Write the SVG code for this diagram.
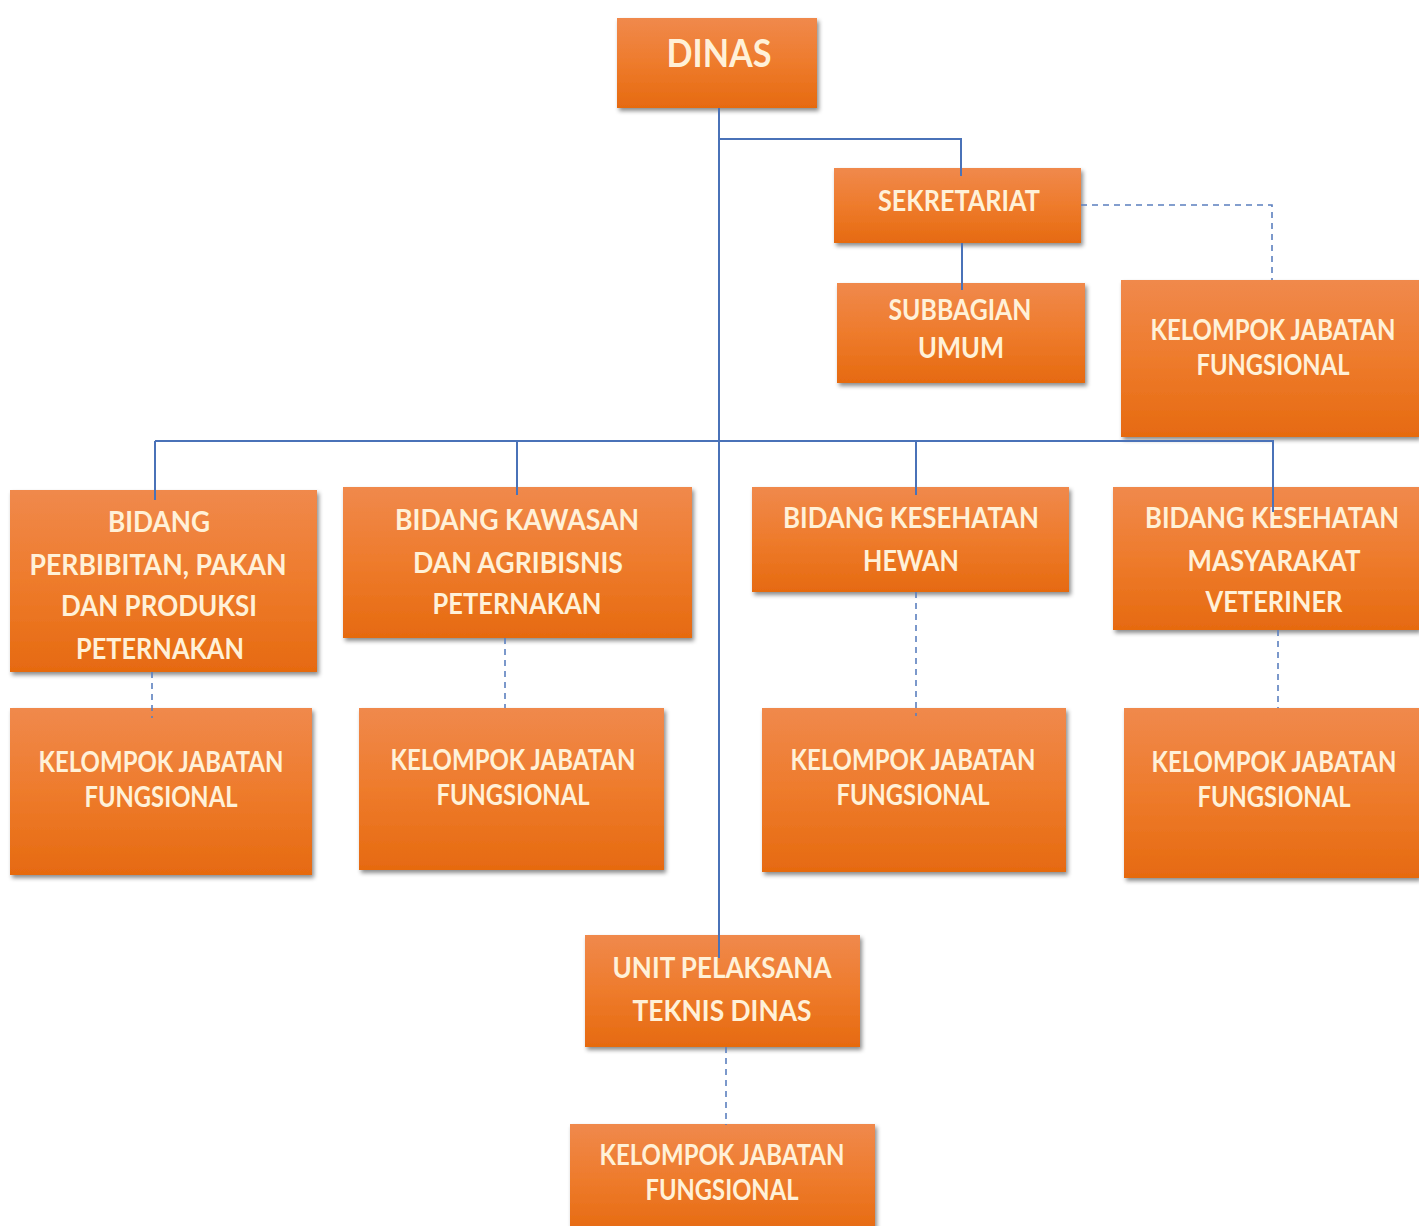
<svg xmlns="http://www.w3.org/2000/svg" width="1419" height="1226" viewBox="0 0 1419 1226">
<defs>
<linearGradient id="og" x1="0" y1="0" x2="0" y2="1">
<stop offset="0" stop-color="#F0894C"/>
<stop offset="0.5" stop-color="#EE7B2C"/>
<stop offset="1" stop-color="#E66A10"/>
</linearGradient>
<filter id="sh" x="-10%" y="-10%" width="120%" height="130%">
<feDropShadow dx="2" dy="3" stdDeviation="2" flood-color="#000" flood-opacity="0.45"/>
</filter>
<style>
.box{fill:url(#og);filter:url(#sh)}
.t{font-family:Lato,"Open Sans","Liberation Sans",sans-serif;font-weight:bold;font-size:28px;fill:#FFF1D8;text-anchor:middle}
.s{fill:none;stroke:#4A72B8;stroke-width:2}
.d{fill:none;stroke:#5B7FBF;stroke-width:1.6;stroke-dasharray:6 5}
</style>
</defs>
<rect width="1419" height="1226" fill="#FFFFFF"/>

<g id="dinas"><rect class="box" x="617" y="18" width="200" height="90"/>
<text class="t" x="719" y="67" style="font-size:38px" textLength="105" lengthAdjust="spacingAndGlyphs">DINAS</text></g>

<g id="sekretariat"><rect class="box" x="834" y="168" width="247" height="75"/>
<text class="t" x="959" y="211" textLength="162" lengthAdjust="spacingAndGlyphs">SEKRETARIAT</text></g>

<g id="subbagian-umum"><rect class="box" x="837" y="283" width="248" height="100"/>
<text class="t" x="960" y="320" textLength="143" lengthAdjust="spacingAndGlyphs">SUBBAGIAN</text>
<text class="t" x="961" y="358" textLength="86" lengthAdjust="spacingAndGlyphs">UMUM</text></g>

<g id="kjf-sekretariat"><rect class="box" x="1121" y="280" width="298" height="157"/>
<text class="t" x="1273" y="340" textLength="245" lengthAdjust="spacingAndGlyphs">KELOMPOK JABATAN</text>
<text class="t" x="1273" y="375" textLength="153" lengthAdjust="spacingAndGlyphs">FUNGSIONAL</text></g>

<g id="bidang-perbibitan"><rect class="box" x="10" y="490" width="307" height="182"/>
<text class="t" x="159" y="532" textLength="102" lengthAdjust="spacingAndGlyphs">BIDANG</text>
<text class="t" x="158" y="575" textLength="257" lengthAdjust="spacingAndGlyphs">PERBIBITAN,  PAKAN</text>
<text class="t" x="159" y="616" textLength="196" lengthAdjust="spacingAndGlyphs">DAN PRODUKSI</text>
<text class="t" x="160" y="659" textLength="168" lengthAdjust="spacingAndGlyphs">PETERNAKAN</text></g>

<g id="bidang-kawasan"><rect class="box" x="343" y="487" width="349" height="151"/>
<text class="t" x="517" y="530" textLength="244" lengthAdjust="spacingAndGlyphs">BIDANG  KAWASAN</text>
<text class="t" x="518" y="573" textLength="210" lengthAdjust="spacingAndGlyphs">DAN AGRIBISNIS</text>
<text class="t" x="517" y="614" textLength="169" lengthAdjust="spacingAndGlyphs">PETERNAKAN</text></g>

<g id="bidang-keswan"><rect class="box" x="752" y="487" width="317" height="105"/>
<text class="t" x="911" y="528" textLength="256" lengthAdjust="spacingAndGlyphs">BIDANG  KESEHATAN</text>
<text class="t" x="911" y="571" textLength="96" lengthAdjust="spacingAndGlyphs">HEWAN</text></g>

<g id="bidang-kesmavet"><rect class="box" x="1113" y="487" width="306" height="143"/>
<text class="t" x="1272" y="528" textLength="254" lengthAdjust="spacingAndGlyphs">BIDANG  KESEHATAN</text>
<text class="t" x="1274" y="571" textLength="173" lengthAdjust="spacingAndGlyphs">MASYARAKAT</text>
<text class="t" x="1274" y="612" textLength="137" lengthAdjust="spacingAndGlyphs">VETERINER</text></g>

<g id="kjf-1"><rect class="box" x="10" y="708" width="302" height="167"/>
<text class="t" x="161" y="772" textLength="245" lengthAdjust="spacingAndGlyphs">KELOMPOK JABATAN</text>
<text class="t" x="161" y="807" textLength="153" lengthAdjust="spacingAndGlyphs">FUNGSIONAL</text></g>

<g id="kjf-2"><rect class="box" x="359" y="708" width="305" height="162"/>
<text class="t" x="513" y="770" textLength="245" lengthAdjust="spacingAndGlyphs">KELOMPOK JABATAN</text>
<text class="t" x="513" y="805" textLength="153" lengthAdjust="spacingAndGlyphs">FUNGSIONAL</text></g>

<g id="kjf-3"><rect class="box" x="762" y="708" width="304" height="164"/>
<text class="t" x="913" y="770" textLength="245" lengthAdjust="spacingAndGlyphs">KELOMPOK JABATAN</text>
<text class="t" x="913" y="805" textLength="153" lengthAdjust="spacingAndGlyphs">FUNGSIONAL</text></g>

<g id="kjf-4"><rect class="box" x="1124" y="708" width="295" height="170"/>
<text class="t" x="1274" y="772" textLength="245" lengthAdjust="spacingAndGlyphs">KELOMPOK JABATAN</text>
<text class="t" x="1274" y="807" textLength="153" lengthAdjust="spacingAndGlyphs">FUNGSIONAL</text></g>

<g id="upt"><rect class="box" x="585" y="935" width="275" height="112"/>
<text class="t" x="722" y="978" textLength="219" lengthAdjust="spacingAndGlyphs">UNIT PELAKSANA</text>
<text class="t" x="722" y="1021" textLength="179" lengthAdjust="spacingAndGlyphs">TEKNIS  DINAS</text></g>

<g id="kjf-upt"><rect class="box" x="570" y="1124" width="305" height="110"/>
<text class="t" x="722" y="1165" textLength="245" lengthAdjust="spacingAndGlyphs">KELOMPOK JABATAN</text>
<text class="t" x="722" y="1200" textLength="153" lengthAdjust="spacingAndGlyphs">FUNGSIONAL</text></g>

<g id="connectors">
<path class="s" d="M719 108 V958"/>
<path class="s" d="M719 139 H961 V176"/>
<path class="s" d="M962 243 V290"/>
<path class="s" d="M155 441 H1273 V512"/>
<path class="s" d="M155 441 V500"/>
<path class="s" d="M517 441 V495"/>
<path class="s" d="M916 441 V495"/>
<path class="d" d="M1081 205 H1272 V280"/>
<path class="d" d="M152 672 V718"/>
<path class="d" d="M505 638 V708"/>
<path class="d" d="M916 592 V716"/>
<path class="d" d="M1278 630 V708"/>
<path class="d" d="M726 1047 V1125"/>
</g>
</svg>
